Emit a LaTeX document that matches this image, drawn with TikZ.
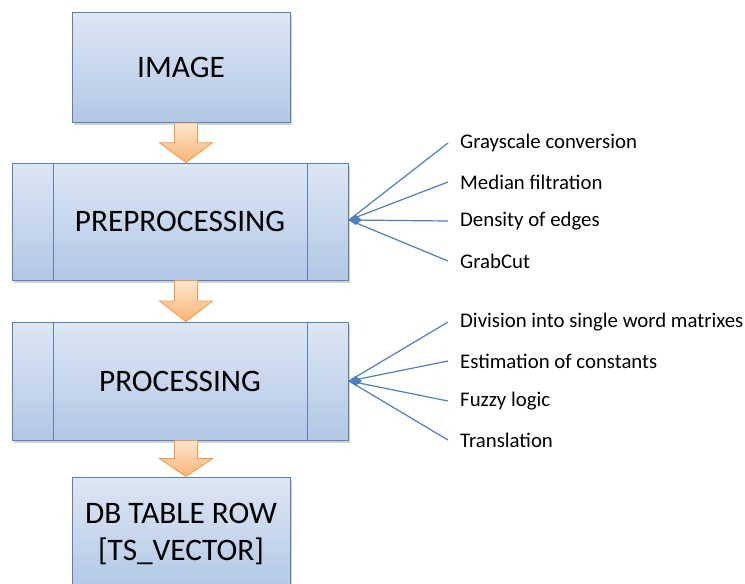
\documentclass[tikz,border=0pt]{standalone}
\usepackage{fontspec}
\setmainfont{Carlito}
\usetikzlibrary{arrows.meta,shadows,calc}
\definecolor{boxtop}{HTML}{DDE7F4}
\definecolor{boxbot}{HTML}{B2C7E5}
\definecolor{boxline}{HTML}{5A80B8}
\definecolor{arrtop}{HTML}{FDE6D0}
\definecolor{arrbot}{HTML}{F9B472}
\definecolor{arrline}{HTML}{F79646}
\definecolor{link}{HTML}{4F7FBC}
\tikzset{
  stage/.style={draw=boxline, line width=1pt, top color=boxtop, bottom color=boxbot,
    font=\fontsize{31.3}{36}\selectfont, align=center, inner sep=0pt,
    drop shadow={opacity=0.35, shadow xshift=2pt, shadow yshift=-2.5pt}},
  barrow/.style={draw=arrline, line width=0.8pt, top color=arrtop, bottom color=arrbot},
  lbl/.style={anchor=west, inner xsep=12pt, inner ysep=0pt, font=\fontsize{20.8}{24}\selectfont},
  spoke/.style={draw=link, line width=1.2pt},
  hubmark/.style={fill=link}
}
\newcommand\blockarrow[2]{%
  \path[barrow] let \p1=(#1.south), \p2=(#2.north), \n1={(\y1+\y2)/2} in
    (174.5pt,\y1) -- (197.5pt,\y1) -- (197.5pt,\n1) -- (212.5pt,\n1) -- (186pt,\y2)
    -- (159.5pt,\n1) -- (174.5pt,\n1) -- cycle;}
\newcommand\hubdiamond[1]{%
  \fill[hubmark] (#1) -- ++(6.5,-5) -- ++(6.5,5) -- ++(-6.5,5) -- cycle;}
\begin{document}
\begin{tikzpicture}[x=1pt,y=-1pt]
\clip (0,0) rectangle (745,584);
\fill[white] (0,0) rectangle (745,584);
% stages
\node[stage, minimum width=218pt, minimum height=110pt] (img) at (181,67.5) {IMAGE};
\node[stage, minimum width=336pt, minimum height=117pt] (pre) at (180,221.5) {PREPROCESSING};
\node[stage, minimum width=336pt, minimum height=118pt] (proc) at (180,381) {PROCESSING};
\node[stage, minimum width=218pt, minimum height=114pt] (db) at (181,534) {DB TABLE ROW\\[1pt][TS\_VECTOR]};
% inner bars of predefined process
\foreach \n in {pre,proc}{
  \draw[boxline, line width=1pt] ($(\n.north west)+(42,0)$) -- ($(\n.south west)+(42,0)$);
  \draw[boxline, line width=1pt] ($(\n.north east)+(-41,0)$) -- ($(\n.south east)+(-41,0)$);
}
% block arrows
\blockarrow{img}{pre}
\blockarrow{pre}{proc}
\blockarrow{proc}{db}
% labels group 1
\coordinate (h1) at (349,220);
\node[lbl] (g1) at (448,143) {Grayscale conversion};
\node[lbl] (g2) at (448,182) {Median filtration};
\node[lbl] (g3) at (448,221) {Density of edges};
\node[lbl] (g4) at (448,261) {GrabCut};
\foreach \t in {g1,g2,g3,g4}{\draw[spoke] (h1) -- (\t.west);}
\hubdiamond{h1}
% labels group 2
\coordinate (h2) at (349,381);
\node[lbl] (p1) at (448,322) {Division into single word matrixes};
\node[lbl] (p2) at (448,361) {Estimation of constants};
\node[lbl] (p3) at (448,401) {Fuzzy logic};
\node[lbl] (p4) at (448,440) {Translation};
\foreach \t in {p1,p2,p3,p4}{\draw[spoke] (h2) -- (\t.west);}
\hubdiamond{h2}
\end{tikzpicture}
\end{document}
